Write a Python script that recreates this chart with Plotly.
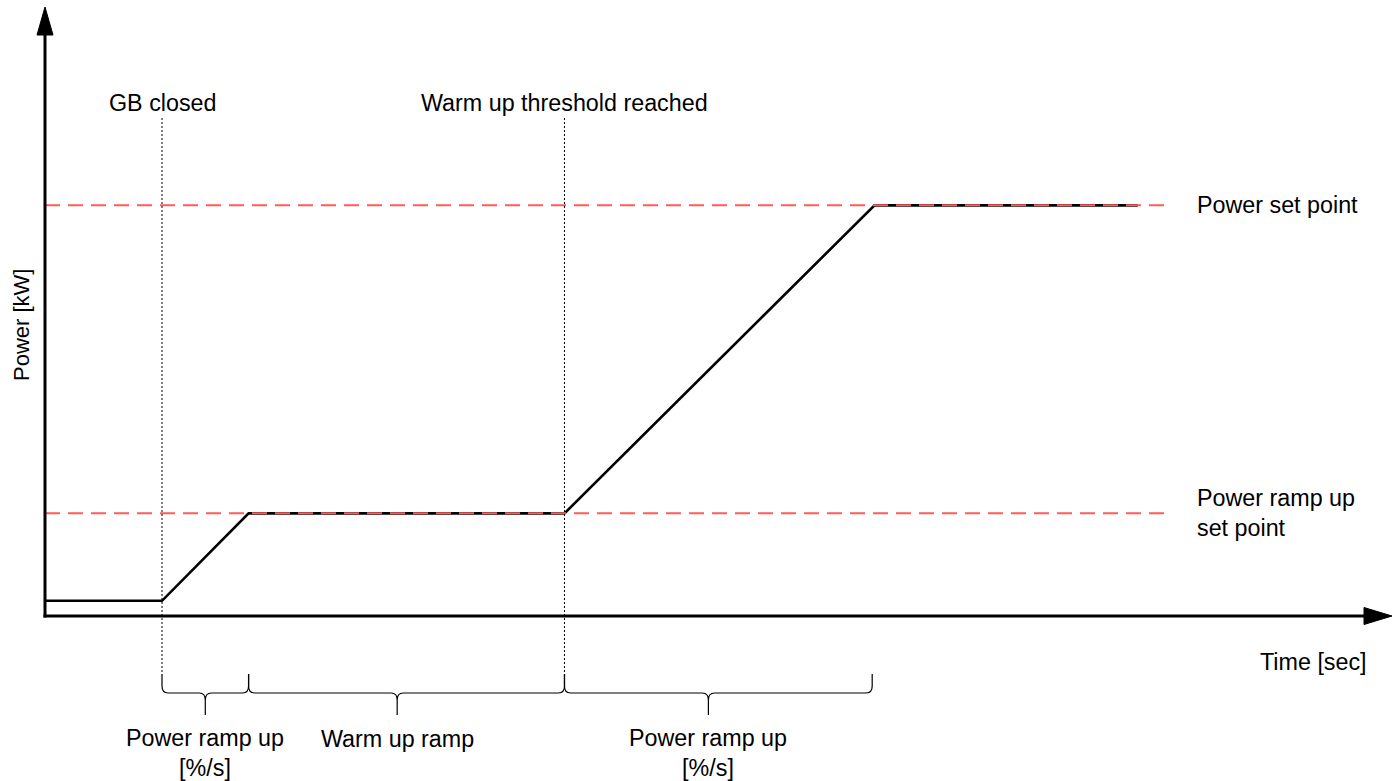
import plotly.graph_objects as go

# ---------------- data ----------------
time_s = [0, 10, 17.4, 44.4, 70.9, 93.4]
power_kw = [3.7, 3.7, 25, 25, 100, 100]
ramp_up_setpoint = 25
power_setpoint = 100
setpoint_span = [0, 96]
event_times = [10, 44.4]
event_labels = ["GB closed", "Warm up threshold reached"]
phase_starts = [10, 17.4, 44.4]
phase_ends = [17.4, 44.4, 70.7]
phase_tips = [13.7, 30.1, 56.7]
phase_labels = ["Power ramp up<br>[%/s]", "Warm up ramp", "Power ramp up<br>[%/s]"]
setpoint_labels = ["Power ramp up<br>set point", "Power set point"]
x_title = "Time [sec]"
y_title = "Power [kW]"

# ---------------- layout geometry ----------------
W, H = 1399, 781
OX, OY = 45, 616          # pixel position of the origin
KX, KY = 11.7, 616 / 150  # pixels per second / per kW


def dx(p):
    return (p - OX) / KX


def dy(p):
    return (OY - p) / KY


FONT = "Liberation Sans, Arial, sans-serif"
FS = 23.3

fig = go.Figure()

# power curve
fig.add_trace(go.Scatter(x=time_s, y=power_kw, mode="lines",
                         line=dict(color="black", width=2.6), hoverinfo="skip"))

# set point dashed lines (drawn on top)
for sp in [ramp_up_setpoint, power_setpoint]:
    fig.add_trace(go.Scatter(x=setpoint_span, y=[sp, sp], mode="lines",
                             line=dict(color="#ff5b5b", width=2, dash="15px,8px"),
                             hoverinfo="skip"))

# event dotted lines
for t in event_times:
    fig.add_trace(go.Scatter(x=[t, t], y=[dy(118), dy(673)], mode="lines",
                             line=dict(color="black", width=1, dash="2px,2px"),
                             hoverinfo="skip"))

shapes = []
# axes lines
x_tip, y_tip = dx(1392), dy(7)
shapes.append(dict(type="line", xref="x", yref="y", x0=dx(OX - 1.5), y0=0, x1=x_tip - 20 / KX, y1=0,
                   line=dict(color="black", width=3)))
shapes.append(dict(type="line", xref="x", yref="y", x0=0, y0=dy(OY + 1.5), x1=0, y1=y_tip - 20 / KY,
                   line=dict(color="black", width=3)))
# arrow heads
hw, hl = 8 / KX, 28 / KY
shapes.append(dict(type="path", xref="x", yref="y",
                   path=f"M {-hw},{y_tip - hl} L 0,{y_tip} L {hw},{y_tip - hl} Z",
                   fillcolor="black", line=dict(color="black", width=1)))
hh, hl2 = 8.5 / KY, 28 / KX
shapes.append(dict(type="path", xref="x", yref="y",
                   path=f"M {x_tip - hl2},{-hh} L {x_tip},0 L {x_tip - hl2},{hh} Z",
                   fillcolor="black", line=dict(color="black", width=1)))

# braces
y_top, y_mid, y_tip_b = dy(674), dy(693), dy(715)
cx = 6 / KX
cy = 7 / KY
for x0, x1, xc in zip(phase_starts, phase_ends, phase_tips):
    p = (f"M {x0},{y_top} L {x0},{y_mid + cy} Q {x0},{y_mid} {x0 + cx},{y_mid} "
         f"L {xc - cx},{y_mid} Q {xc},{y_mid} {xc},{y_mid - cy} L {xc},{y_tip_b} "
         f"M {xc},{y_mid - cy} Q {xc},{y_mid} {xc + cx},{y_mid} "
         f"L {x1 - cx},{y_mid} Q {x1},{y_mid} {x1},{y_mid + cy} L {x1},{y_top}")
    shapes.append(dict(type="path", xref="x", yref="y", path=p,
                       line=dict(color="black", width=1.2)))

annotations = []


def ann(text, x, y, xanchor="center", yanchor="middle", size=FS, angle=0, align="center"):
    annotations.append(dict(text=text, x=x, y=y, xref="x", yref="y", showarrow=False,
                            xanchor=xanchor, yanchor=yanchor, textangle=angle, align=align,
                            font=dict(family=FONT, size=size, color="black")))


for t, lab in zip(event_times, event_labels):
    ann(lab, t, dy(103))
ann(setpoint_labels[1], dx(1195), power_setpoint, xanchor="left", align="left")
ann(setpoint_labels[0], dx(1195), dy(512.5), xanchor="left", align="left")
ann(x_title, dx(1369), dy(662), xanchor="right")
ann(y_title, dx(21), dy(325), size=22, angle=-90)
ann(phase_labels[0], phase_tips[0], dy(753))
ann(phase_labels[1], phase_tips[1], dy(739))
ann(phase_labels[2], phase_tips[2], dy(753))

fig.update_layout(
    width=W, height=H, margin=dict(l=0, r=0, t=0, b=0),
    paper_bgcolor="white", plot_bgcolor="white", showlegend=False,
    xaxis=dict(range=[-OX / KX, (W - OX) / KX], visible=False, fixedrange=True),
    yaxis=dict(range=[-(H - OY) / KY, OY / KY], visible=False, fixedrange=True),
    shapes=shapes, annotations=annotations,
)

fig.write_html("out.html", config={"displayModeBar": False},
               post_script="document.body.style.margin='0';document.body.style.overflow='hidden';")
